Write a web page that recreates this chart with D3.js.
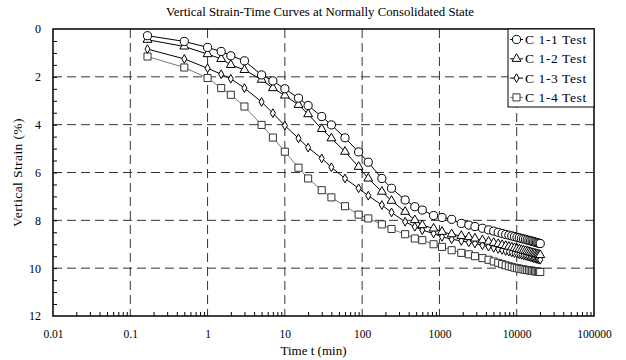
<!DOCTYPE html>
<html>
<head>
<meta charset="utf-8">
<script src="https://cdn.jsdelivr.net/npm/d3@7"></script>
<style>
  body { margin: 0; background: #fff; }
  svg { display: block; font-family: "Liberation Serif", "Times New Roman", serif; }
  .grid line { stroke: #333; stroke-width: 1; stroke-dasharray: 9,5; }
</style>
</head>
<body>
<svg id="chart" width="626" height="360"></svg>
<script>
// Time (min) of each reading, shared by all four tests
const times = [0.167, 0.5, 1, 1.5, 2, 3, 5, 7, 10, 15, 20, 30, 40, 60, 90, 120, 180, 240, 360, 480,
  600, 840, 1080, 1440, 1920, 2400, 2880, 3600, 4320, 5040, 5760, 6480, 7200, 7920, 8640, 9360,
  10080, 10800, 11520, 12240, 12960, 13680, 14400, 15120, 15840, 16560, 17280, 18000, 18720, 19440, 20160];

// Vertical strain (%) per test
const c11 = [0.28, 0.52, 0.77, 0.94, 1.12, 1.33, 1.92, 2.17, 2.50, 2.89, 3.20, 3.66, 4.01, 4.55, 5.14, 5.57,
  6.25, 6.66, 7.15, 7.43, 7.57, 7.80, 7.88, 7.96, 8.13, 8.20,
  8.26, 8.33, 8.40, 8.45, 8.50, 8.55, 8.59, 8.62, 8.65, 8.68, 8.71, 8.73, 8.76, 8.78, 8.80, 8.82, 8.84,
  8.86, 8.87, 8.89, 8.91, 8.93, 8.94, 8.96, 8.97];
const c12 = [0.45, 0.73, 1.05, 1.25, 1.50, 1.71, 2.12, 2.47, 2.78, 3.17, 3.56, 4.18, 4.57, 5.13, 5.76, 6.25,
  6.80, 7.18, 7.64, 7.99, 8.20, 8.34, 8.48, 8.58, 8.65, 8.70,
  8.76, 8.83, 8.89, 8.94, 8.99, 9.03, 9.07, 9.10, 9.13, 9.16, 9.19, 9.21, 9.24, 9.26, 9.28, 9.30, 9.32,
  9.34, 9.36, 9.38, 9.39, 9.41, 9.42, 9.44, 9.45];
const c13 = [0.84, 1.25, 1.64, 1.89, 2.08, 2.47, 3.05, 3.52, 4.04, 4.57, 4.96, 5.41, 5.78, 6.25, 6.66, 6.97,
  7.36, 7.67, 8.06, 8.27, 8.41, 8.55, 8.69, 8.79, 8.86, 8.92,
  8.97, 9.04, 9.10, 9.15, 9.20, 9.24, 9.28, 9.31, 9.34, 9.37, 9.39, 9.42, 9.44, 9.46, 9.48, 9.50, 9.52,
  9.54, 9.56, 9.58, 9.59, 9.61, 9.62, 9.64, 9.65];
const c14 = [1.15, 1.61, 2.05, 2.47, 2.75, 3.24, 4.01, 4.54, 5.13, 5.80, 6.25, 6.74, 7.04, 7.41, 7.76, 7.92,
  8.17, 8.36, 8.58, 8.76, 8.83, 9.00, 9.11, 9.25, 9.36, 9.42,
  9.50, 9.58, 9.65, 9.72, 9.78, 9.83, 9.88, 9.92, 9.95, 9.98, 10.00, 10.02, 10.04, 10.05, 10.07, 10.08,
  10.09, 10.10, 10.11, 10.12, 10.13, 10.14, 10.14, 10.15, 10.16];

const seriesNames = ['C 1-1 Test', 'C 1-2 Test', 'C 1-3 Test', 'C 1-4 Test'];
const xTicks = [0.01, 0.1, 1, 10, 100, 1000, 10000, 100000];
const xTickLabels = ['0.01', '0.1', '1', '10', '100', '1000', '10000', '100000'];
const yTicks = [0, 2, 4, 6, 8, 10, 12];

const svg = d3.select('#chart');
const margin = {left: 53, top: 29, right: 32, bottom: 44};
const width = +svg.attr('width');
const height = +svg.attr('height');

const x = d3.scaleLog().domain([0.01, 100000]).range([margin.left, width - margin.right]);
const y = d3.scaleLinear().domain([0, 12]).range([margin.top, height - margin.bottom]);

svg.append('rect').attr('width', width).attr('height', height).attr('fill', '#fff');

// Dashed grid
const grid = svg.append('g').attr('class', 'grid');
grid.selectAll('line.gx').data(xTicks.slice(1, -1)).enter().append('line')
  .attr('x1', d => x(d)).attr('x2', d => x(d))
  .attr('y1', y(0)).attr('y2', y(12));
grid.selectAll('line.gy').data(yTicks.slice(1, -1)).enter().append('line')
  .attr('x1', x(0.01)).attr('x2', x(100000))
  .attr('y1', d => y(d)).attr('y2', d => y(d));

// Minor ticks (inward)
const minorX = [];
xTicks.slice(0, -1).forEach(d => { for (let k = 2; k <= 9; k++) minorX.push(d * k); });
svg.append('g')
  .attr('transform', `translate(0,${y(12)})`)
  .call(d3.axisBottom(x).tickValues(minorX).tickSize(-4).tickFormat(''))
  .call(g => g.select('.domain').remove())
  .call(g => g.selectAll('line').attr('stroke', '#000'));
svg.append('g')
  .attr('transform', `translate(${x(0.01)},0)`)
  .call(d3.axisLeft(y).tickValues(d3.range(0.5, 12, 0.5)).tickSize(-4).tickFormat(''))
  .call(g => g.select('.domain').remove());

// Tick labels
svg.append('g')
  .attr('transform', `translate(0,${y(12)})`)
  .call(d3.axisBottom(x).tickValues(xTicks).tickSize(0).tickPadding(14)
    .tickFormat((d, i) => xTickLabels[i]))
  .call(g => g.select('.domain').remove())
  .call(g => g.selectAll('text').attr('font-size', 11.5).attr('font-family', 'Liberation Serif').attr('fill', '#000'));
svg.append('g')
  .attr('transform', `translate(${x(0.01)},0)`)
  .call(d3.axisLeft(y).tickValues(yTicks).tickSize(0).tickPadding(12))
  .call(g => g.select('.domain').remove())
  .call(g => g.selectAll('text').attr('font-size', 12).attr('font-family', 'Liberation Serif').attr('fill', '#000'));

// Frame
svg.append('rect')
  .attr('x', x(0.01)).attr('y', y(0))
  .attr('width', x(100000) - x(0.01)).attr('height', y(12) - y(0))
  .attr('fill', 'none').attr('stroke', '#000').attr('stroke-width', 1.5);

// Series
const series = [
  {name: seriesNames[0], values: c11, symbol: d3.symbolCircle, size: 52, line: '#000'},
  {name: seriesNames[1], values: c12, symbol: d3.symbolTriangle, size: 34, line: '#000'},
  {name: seriesNames[2], values: c13, symbol: d3.symbolDiamond, size: 22, line: '#000'},
  {name: seriesNames[3], values: c14, symbol: d3.symbolSquare, size: 50, line: '#777'}
];

const lineGen = d3.line().x(d => x(d[0])).y(d => y(d[1]));

series.slice().reverse().forEach(s => {
  const pts = times.map((t, i) => [t, s.values[i]]);
  const g = svg.append('g');
  g.append('path').datum(pts)
    .attr('d', lineGen).attr('fill', 'none')
    .attr('stroke', s.line).attr('stroke-width', 1);
  g.selectAll('path.mark').data(pts).enter().append('path')
    .attr('class', 'mark')
    .attr('d', d3.symbol().type(s.symbol).size(s.size))
    .attr('transform', d => `translate(${x(d[0])},${y(d[1])})`)
    .attr('fill', '#fff').attr('stroke', s.line === '#000' ? '#000' : '#333').attr('stroke-width', 1);
});

// Legend
const lg = svg.append('g').attr('transform', `translate(508,${y(0)})`);
lg.append('rect').attr('width', 86).attr('height', 78)
  .attr('fill', '#fff').attr('stroke', '#000').attr('stroke-width', 1);
series.forEach((s, i) => {
  const row = lg.append('g').attr('transform', `translate(0,${10.5 + i * 19.3})`);
  row.append('line').attr('x1', 2).attr('x2', 15).attr('stroke', s.line).attr('stroke-width', 1);
  row.append('path')
    .attr('d', d3.symbol().type(s.symbol).size(s.size))
    .attr('transform', 'translate(8.5,0)')
    .attr('fill', '#fff').attr('stroke', s.line === '#000' ? '#000' : '#333');
  row.append('text').attr('x', 17).attr('y', 4.5)
    .attr('font-size', 13.5).attr('letter-spacing', 0.6).attr('fill', '#000').text(s.name);
});

// Titles
svg.append('text').attr('x', 320).attr('y', 16).attr('text-anchor', 'middle')
  .attr('font-size', 12.8).text('Vertical Strain-Time Curves at Normally Consolidated State');
svg.append('text').attr('x', (x(0.01) + x(100000)) / 2 - 10).attr('y', 355).attr('text-anchor', 'middle')
  .attr('font-size', 13).text('Time t (min)');
svg.append('text')
  .attr('transform', `translate(22,${(y(0) + y(12)) / 2}) rotate(-90)`)
  .attr('text-anchor', 'middle').attr('font-size', 13.5).attr('letter-spacing', 0.4).text('Vertical Strain (%)');
</script>
</body>
</html>
